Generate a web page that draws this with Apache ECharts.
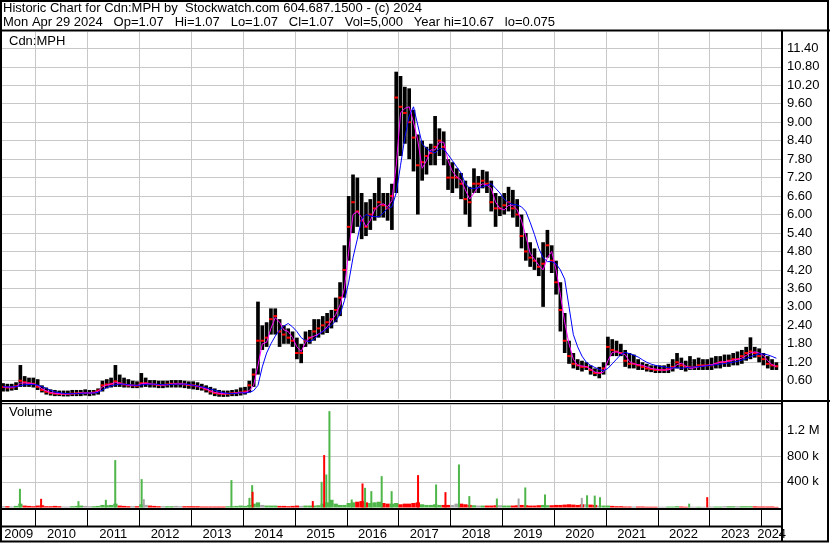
<!DOCTYPE html>
<html><head><meta charset="utf-8">
<script src="https://cdn.jsdelivr.net/npm/echarts@6/dist/echarts.min.js"></script>
<style>html,body{margin:0;padding:0;background:#fff}#c{width:830px;height:543px}</style>
</head><body><div id="c"></div>
<script>
// ---- DATA (monthly) ----
const months = [
'2009-05','2009-06','2009-07','2009-08','2009-09','2009-10','2009-11','2009-12',
'2010-01','2010-02','2010-03','2010-04','2010-05','2010-06','2010-07','2010-08','2010-09','2010-10','2010-11','2010-12',
'2011-01','2011-02','2011-03','2011-04','2011-05','2011-06','2011-07','2011-08','2011-09','2011-10','2011-11','2011-12',
'2012-01','2012-02','2012-03','2012-04','2012-05','2012-06','2012-07','2012-08','2012-09','2012-10','2012-11','2012-12',
'2013-01','2013-02','2013-03','2013-04','2013-05','2013-06','2013-07','2013-08','2013-09','2013-10','2013-11','2013-12',
'2014-01','2014-02','2014-03','2014-04','2014-05','2014-06','2014-07','2014-08','2014-09','2014-10','2014-11','2014-12',
'2015-01','2015-02','2015-03','2015-04','2015-05','2015-06','2015-07','2015-08','2015-09','2015-10','2015-11','2015-12',
'2016-01','2016-02','2016-03','2016-04','2016-05','2016-06','2016-07','2016-08','2016-09','2016-10','2016-11','2016-12',
'2017-01','2017-02','2017-03','2017-04','2017-05','2017-06','2017-07','2017-08','2017-09','2017-10','2017-11','2017-12',
'2018-01','2018-02','2018-03','2018-04','2018-05','2018-06','2018-07','2018-08','2018-09','2018-10','2018-11','2018-12',
'2019-01','2019-02','2019-03','2019-04','2019-05','2019-06','2019-07','2019-08','2019-09','2019-10','2019-11','2019-12',
'2020-01','2020-02','2020-03','2020-04','2020-05','2020-06','2020-07','2020-08','2020-09','2020-10','2020-11','2020-12',
'2021-01','2021-02','2021-03','2021-04','2021-05','2021-06','2021-07','2021-08','2021-09','2021-10','2021-11','2021-12',
'2022-01','2022-02','2022-03','2022-04','2022-05','2022-06','2022-07','2022-08','2022-09','2022-10','2022-11','2022-12',
'2023-01','2023-02','2023-03','2023-04','2023-05','2023-06','2023-07','2023-08','2023-09','2023-10','2023-11','2023-12',
'2024-01','2024-02','2024-03','2024-04'];

const hi = [
.52,.50,.50,.55,1.11,.75,.70,.70,
.65,.45,.38,.32,.30,.28,.28,.28,.30,.30,.30,.32,
.30,.30,.35,.60,.65,.70,1.11,.80,.70,.65,.60,.58,
.85,.70,.62,.62,.60,.60,.60,.62,.62,.62,.60,.58,
.58,.55,.50,.45,.40,.35,.30,.28,.28,.30,.32,.38,
.40,.60,1.00,3.17,2.40,2.50,2.95,2.95,2.60,2.40,2.30,2.20,
2.00,1.80,2.20,2.25,2.60,2.60,2.70,2.80,2.90,3.30,3.80,5.00,
6.60,7.30,7.20,6.70,6.40,6.50,6.70,7.20,6.70,6.70,7.00,10.64,
10.50,10.15,10.10,9.40,8.60,8.40,8.20,8.30,9.20,8.80,8.70,7.80,
7.70,7.50,7.35,7.10,6.90,7.50,7.25,7.45,7.40,7.10,6.70,6.60,
6.70,6.90,6.80,6.50,6.00,5.40,5.10,4.90,4.60,5.10,5.50,5.00,
4.50,3.80,2.80,1.90,1.50,1.30,1.25,1.20,1.10,1.00,1.05,1.20,
2.03,1.95,1.90,1.80,1.60,1.50,1.45,1.30,1.20,1.15,1.10,1.10,
1.10,1.10,1.15,1.30,1.50,1.35,1.25,1.40,1.30,1.35,1.30,1.30,
1.35,1.40,1.40,1.45,1.45,1.50,1.55,1.60,1.70,2.01,1.70,1.65,
1.50,1.40,1.30,1.20];

const lo = [
.25,.25,.28,.30,.40,.40,.40,.38,
.30,.22,.15,.12,.10,.10,.09,.09,.10,.10,.10,.12,
.10,.12,.15,.25,.35,.38,.40,.40,.38,.38,.36,.36,
.38,.40,.38,.38,.36,.36,.38,.38,.38,.38,.36,.34,
.32,.30,.28,.22,.15,.10,.08,.075,.08,.10,.10,.12,
.15,.22,.40,.80,1.60,1.70,2.10,2.10,1.70,1.80,1.80,1.70,
1.30,1.17,1.70,1.80,1.90,2.00,2.10,2.15,2.30,2.50,2.70,3.30,
4.50,5.40,5.60,5.20,5.30,5.50,5.80,5.90,5.90,5.80,5.50,6.70,
7.90,8.30,7.80,7.40,6.00,7.10,7.30,7.60,7.60,7.90,7.60,6.80,
6.70,6.85,6.50,6.00,5.60,6.70,6.70,6.85,6.70,6.10,5.60,5.95,
6.00,6.10,5.90,5.60,4.90,4.50,4.30,4.20,4.00,3.00,4.60,4.10,
3.40,2.20,1.50,1.15,1.00,0.95,0.90,0.95,0.80,0.75,0.68,0.80,
1.10,1.40,1.40,1.40,1.05,1.00,1.00,0.95,0.95,0.90,0.88,0.85,
0.85,0.85,0.85,0.90,1.00,0.95,0.90,0.95,0.95,0.95,0.95,0.95,
0.95,1.00,1.00,1.05,1.05,1.10,1.10,1.15,1.25,1.30,1.35,1.20,
1.10,1.00,0.95,0.95];

const cl = [
.40,.38,.38,.42,.60,.55,.52,.50,
.40,.30,.24,.20,.18,.17,.17,.17,.18,.19,.20,.20,
.20,.22,.28,.45,.48,.50,.58,.52,.48,.45,.45,.44,
.52,.52,.50,.48,.46,.46,.48,.50,.50,.50,.48,.46,
.45,.42,.38,.32,.25,.20,.18,.17,.18,.19,.20,.22,
.25,.45,.80,1.90,1.90,2.00,2.60,2.70,2.20,2.10,2.00,1.90,
1.50,1.50,1.90,2.00,2.20,2.30,2.40,2.50,2.60,2.90,3.30,4.20,
5.60,6.40,6.10,5.80,5.60,6.00,6.20,6.40,6.30,6.20,6.60,9.80,
9.50,9.30,9.00,8.50,7.60,7.70,7.90,8.00,8.20,8.40,8.20,7.20,
7.20,7.20,7.00,6.50,6.40,7.00,7.00,7.10,7.00,6.40,6.20,6.20,
6.30,6.40,6.20,6.00,5.30,4.80,4.60,4.50,4.30,4.40,5.00,4.50,
3.80,2.90,1.90,1.40,1.15,1.10,1.05,1.05,0.95,0.85,0.85,1.00,
1.70,1.60,1.55,1.50,1.25,1.15,1.15,1.10,1.05,1.00,0.98,0.95,
0.95,0.95,0.98,1.05,1.20,1.10,1.05,1.05,1.05,1.10,1.10,1.10,
1.10,1.15,1.20,1.20,1.25,1.30,1.30,1.40,1.50,1.55,1.50,1.40,
1.30,1.15,1.10,1.07];

// short moving average (magenta) as drawn
const maFast = [
.40,.39,.39,.41,.52,.53,.52,.50,
.44,.34,.27,.22,.19,.18,.17,.17,.18,.19,.20,.20,
.20,.21,.26,.40,.46,.49,.54,.52,.48,.46,.45,.44,
.50,.52,.50,.48,.47,.46,.47,.49,.50,.50,.49,.47,
.45,.42,.38,.33,.27,.22,.19,.18,.18,.19,.20,.22,
.22,.28,.45,1.10,1.80,1.85,2.30,2.65,2.50,2.25,2.20,2.00,
1.70,1.55,1.85,2.00,2.05,2.12,2.20,2.35,2.55,2.75,3.06,3.60,
4.80,6.00,6.10,5.90,5.60,5.80,6.15,6.30,6.35,6.25,6.45,7.60,
9.30,9.45,9.50,9.00,8.40,7.50,7.75,8.10,8.10,8.35,8.35,7.75,
7.40,7.23,7.12,6.80,6.50,6.70,6.90,7.00,6.95,6.85,6.40,6.20,
6.15,6.30,6.30,6.15,5.80,5.30,4.74,4.55,4.35,4.20,4.60,4.80,
4.20,3.40,2.50,1.80,1.30,1.10,1.08,1.06,0.98,0.88,0.85,0.88,
1.25,1.52,1.54,1.50,1.45,1.22,1.15,1.12,1.10,1.05,1.00,0.98,
0.95,0.95,0.95,1.00,1.12,1.17,1.08,1.00,1.02,1.05,1.08,1.10,
1.12,1.17,1.20,1.22,1.24,1.27,1.30,1.33,1.42,1.50,1.54,1.50,
1.42,1.25,1.12,1.06];

// long moving average (blue) as drawn
const maSlow = [
.41,.40,.40,.41,.44,.47,.48,.48,
.46,.41,.35,.29,.24,.21,.19,.18,.18,.18,.19,.20,
.20,.20,.22,.30,.38,.43,.47,.49,.49,.47,.46,.45,
.46,.48,.49,.49,.48,.47,.47,.48,.49,.49,.49,.48,
.45,.43,.40,.37,.33,.29,.25,.21,.19,.18,.19,.21,
.20,.22,.28,.45,1.05,1.50,1.80,2.05,2.25,2.38,2.46,2.35,
2.20,2.00,1.90,1.87,1.95,2.10,2.20,2.30,2.40,2.55,2.75,3.20,
3.80,4.60,5.20,5.85,6.00,5.95,5.93,5.93,6.05,6.20,6.25,6.70,
7.60,8.50,9.20,9.50,8.90,8.30,8.15,8.05,8.00,8.15,8.12,7.95,
7.75,7.55,7.35,7.00,6.85,6.85,6.87,6.90,6.95,7.00,6.85,6.70,
6.50,6.38,6.33,6.31,6.25,6.10,5.75,5.35,4.90,4.60,4.47,4.47,
4.40,4.20,3.90,3.00,2.10,1.70,1.40,1.20,1.10,1.03,0.97,0.92,
1.00,1.15,1.30,1.45,1.52,1.48,1.43,1.37,1.28,1.20,1.14,1.10,
1.07,1.05,1.02,1.02,1.02,1.01,1.02,1.04,1.05,1.06,1.07,1.09,
1.10,1.12,1.14,1.16,1.18,1.20,1.23,1.27,1.32,1.38,1.43,1.47,
1.47,1.44,1.39,1.33];

// typical daily volume level per month (thousands)
const volBase = [
20,20,15,25,60,30,25,20,
30,35,20,20,25,20,15,15,20,25,30,25,
20,20,25,40,35,40,60,30,25,20,20,20,
50,40,30,25,20,20,20,20,25,20,20,20,
20,20,15,15,15,15,15,15,20,20,25,30,
25,40,60,80,40,30,30,30,25,25,20,25,
30,25,30,30,30,35,60,80,120,60,40,40,
70,80,90,100,80,70,80,90,70,60,60,70,
50,60,60,70,80,50,40,40,50,40,40,40,
40,60,60,50,40,35,30,30,30,30,35,35,
30,30,30,35,40,35,30,30,35,40,35,35,
40,40,45,50,45,40,50,50,45,40,30,30,
30,25,20,20,15,15,15,15,15,12,12,12,
12,12,15,15,20,15,12,12,12,12,12,12,
15,15,15,20,20,20,20,20,20,20,18,15,
15,15,15,10];

// notable single-day volume spikes (thousands) and that day's price move
const spikeDates = ['2009-09-13','2010-02-09','2010-10-30','2011-05-11','2011-07-16','2012-01-18','2012-02-02',
'2013-10-12','2014-02-16','2014-03-07','2014-03-10','2015-05-08','2015-07-09','2015-07-27','2015-08-11','2015-09-02',
'2016-02-06','2016-04-22','2016-05-10','2016-06-23','2016-09-04','2016-11-13','2017-05-19','2017-09-23','2017-11-28',
'2018-03-03','2018-05-15','2018-11-25','2019-04-27','2019-06-13','2019-10-30','2020-07-15','2020-08-21','2020-10-14',
'2020-11-20','2022-08-11','2022-12-16'];
const spikeVol = [291,135,99,120,738,442,130,426,150,348,244,100,400,816,514,1500,125,374,306,254,488,254,504,358,239,
670,177,140,140,312,203,150,190,185,160,60,161];
const spikeMove = [1,-1,1,1,1,1,0,1,1,1,-1,-1,1,-1,1,1,1,-1,1,1,1,1,-1,1,-1,1,1,1,0,1,1,0,1,1,1,1,-1];

const yearLabels = ['2009','2010','2011','2012','2013','2014','2015','2016','2017','2018','2019','2020','2021','2022','2023','2024'];
const volTickLabels = {400:'400 k', 800:'800 k', 1200:'1.2 M'};
const priceTickStep = 0.6;
const volTickStep = 400;

const headerLine1 = 'Historic Chart for Cdn:MPH by  Stockwatch.com 604.687.1500 - (c) 2024';
const headerLine2 = 'Mon Apr 29 2024   Op=1.07   Hi=1.07   Lo=1.07   Cl=1.07   Vol=5,000   Year hi=10.67   lo=0.075';

// ---- helpers ----
function monthX(s){ return +s.slice(0,4) + (+s.slice(5,7) - 0.5)/12; }
function dateX(s){
  const y = +s.slice(0,4);
  const d = (Date.UTC(y, +s.slice(5,7)-1, +s.slice(8,10)) - Date.UTC(y,0,1))/86400000;
  return y + (d+0.5)/365;
}

// ---- layout ----
const X_MIN = 2009.354, X_MAX = 2024.40;
const FONT = '13px "Liberation Sans", Arial, sans-serif';
const GREEN = '#4fb64a', RED = '#ff0000', GRAY = '#a6a6a6';

const barData = months.map((m,i)=>[monthX(m), lo[i], hi[i], cl[i]]);
const fastData = months.map((m,i)=>[monthX(m), maFast[i]]);
const slowData = months.map((m,i)=>[monthX(m), maSlow[i]]);
const volData = months.map((m,i)=>{
  const d = i===0 ? 0 : cl[i]-cl[i-1];
  return [monthX(m), volBase[i], d>0.001?1:(d<-0.001?-1:0)];
});
const spikeData = spikeDates.map((s,i)=>[dateX(s), spikeVol[i], spikeMove[i]]);
const yearLineData = yearLabels.slice(1).map(y=>[+y, 0]);
const labelData = yearLabels.map(y=>{
  const Y = +y;
  return [(Math.max(Y, X_MIN) + Math.min(Y+1, X_MAX))/2, 0.5];
});

function xAxisCfg(gridIndex){
  return {type:'value', gridIndex, min:X_MIN, max:X_MAX,
    axisLine:{show:false}, axisTick:{show:false}, axisLabel:{show:false}, splitLine:{show:false}};
}
function dirColor(v){ return v>0?GREEN:(v<0?RED:GRAY); }
function yearLineSeries(idx, color){
  return {type:'custom', xAxisIndex:idx, yAxisIndex:idx, data:yearLineData, z:1, silent:true, encode:{x:0},
    renderItem:(p, api)=>{
      const cs = p.coordSys;
      const x = Math.round(api.coord([api.value(0), 0])[0]) + 0.5;
      return {type:'line', shape:{x1:x, y1:cs.y, x2:x, y2:cs.y+cs.height}, style:{stroke:color, lineWidth:1}};
    }};
}

const chart = echarts.init(document.getElementById('c'), null, {renderer:'canvas'});
chart.setOption({
  animation:false,
  backgroundColor:'#fff',
  grid:[
    {left:2, top:32, width:780, height:367.2},
    {left:2, top:404, width:780, height:103.5},
    {left:2, top:510, width:780, height:16},
    {left:2, top:527.5, width:780, height:14}
  ],
  xAxis:[xAxisCfg(0), xAxisCfg(1), xAxisCfg(2), xAxisCfg(3)],
  yAxis:[
    {type:'value', gridIndex:0, position:'right', min:0, max:11.93, interval:priceTickStep,
     axisLine:{show:false}, axisTick:{show:false},
     axisLabel:{margin:5, showMinLabel:false, showMaxLabel:false, color:'#000', fontFamily:'"Liberation Sans", Arial', fontSize:13,
       formatter:v=>v.toFixed(2)},
     splitLine:{showMinLine:false, showMaxLine:false, lineStyle:{color:'#c8c8c8', width:1}}},
    {type:'value', gridIndex:1, position:'right', min:0, max:1611, interval:volTickStep,
     axisLine:{show:false}, axisTick:{show:false},
     axisLabel:{margin:5, showMinLabel:false, showMaxLabel:false, color:'#000', fontFamily:'"Liberation Sans", Arial', fontSize:13,
       formatter:v=> volTickLabels[Math.round(v)] || ''},
     splitLine:{showMinLine:false, showMaxLine:false, lineStyle:{color:'#c8c8c8', width:1}}},
    {type:'value', gridIndex:2, min:0, max:1, show:false},
    {type:'value', gridIndex:3, min:0, max:1, show:false}
  ],
  series:[
    yearLineSeries(0, '#c8c8c8'),
    yearLineSeries(1, '#c8c8c8'),
    yearLineSeries(2, '#000'),
    {type:'custom', xAxisIndex:0, yAxisIndex:0, data:barData, z:2, encode:{x:0, y:[1,2,3]},
     renderItem:(p, api)=>{
       const x = api.value(0);
       const pL = api.coord([x, api.value(1)]);
       const pH = api.coord([x, api.value(2)]);
       const pC = api.coord([x, api.value(3)]);
       const w = api.size([1/12, 0])[0]*0.85;
       return {type:'group', children:[
         {type:'rect', shape:{x:pL[0]-w/2, y:pH[1], width:w, height:Math.max(1,pL[1]-pH[1])}, style:{fill:'#000'}},
         {type:'rect', shape:{x:pC[0]-w/2, y:pC[1]-1, width:w, height:2}, style:{fill:RED}}
       ]};
     }},
    {type:'line', xAxisIndex:0, yAxisIndex:0, data:fastData, showSymbol:false, z:3,
     lineStyle:{color:'#ff00ff', width:1}},
    {type:'line', xAxisIndex:0, yAxisIndex:0, data:slowData, showSymbol:false, z:4,
     lineStyle:{color:'#0000ff', width:1}},
    {type:'custom', xAxisIndex:1, yAxisIndex:1, data:volData, z:2, encode:{x:0, y:1},
     renderItem:(p, api)=>{
       const x = api.value(0);
       const p0 = api.coord([x, 0]);
       const p1 = api.coord([x, api.value(1)]);
       const w = api.size([1/12, 0])[0];
       return {type:'rect', shape:{x:p0[0]-w/2, y:p1[1], width:w, height:p0[1]-p1[1]}, style:{fill:dirColor(api.value(2))}};
     }},
    {type:'custom', xAxisIndex:1, yAxisIndex:1, data:spikeData, z:3, encode:{x:0, y:1},
     renderItem:(p, api)=>{
       const x = api.value(0);
       const p0 = api.coord([x, 0]);
       const p1 = api.coord([x, api.value(1)]);
       return {type:'rect', shape:{x:p0[0]-1, y:p1[1], width:2, height:p0[1]-p1[1]}, style:{fill:dirColor(api.value(2))}};
     }},
    {type:'custom', xAxisIndex:3, yAxisIndex:3, data:labelData, z:5, encode:{x:0, y:1},
     renderItem:(p, api)=>{
       const pt = api.coord([api.value(0), api.value(1)]);
       return {type:'text', style:{text:yearLabels[p.dataIndex], x:pt[0], y:pt[1], align:'center', verticalAlign:'middle', font:FONT, fill:'#000'}};
     }}
  ],
  graphic:[
    {type:'text', left:3, top:2, z:10, style:{text:headerLine1, font:FONT, fill:'#000'}},
    {type:'text', left:3, top:16, z:10, style:{text:headerLine2, font:FONT, fill:'#000'}},
    {type:'text', left:9, top:35, z:10, style:{text:'Cdn:MPH', font:FONT, fill:'#000'}},
    {type:'text', left:9, top:406, z:10, style:{text:'Volume', font:FONT, fill:'#000'}},
    {type:'line', z:10, shape:{x1:0, y1:30.5, x2:830, y2:30.5}, style:{stroke:'#000', lineWidth:2}},
    {type:'line', z:10, shape:{x1:782, y1:30, x2:782, y2:542}, style:{stroke:'#000', lineWidth:2}},
    {type:'line', z:10, shape:{x1:0, y1:401, x2:830, y2:401}, style:{stroke:'#000', lineWidth:2}},
    {type:'line', z:10, shape:{x1:0, y1:403.5, x2:782, y2:403.5}, style:{stroke:'#000', lineWidth:1}},
    {type:'line', z:10, shape:{x1:0, y1:509, x2:782, y2:509}, style:{stroke:'#000', lineWidth:2}},
    {type:'line', z:10, shape:{x1:0, y1:526.5, x2:782, y2:526.5}, style:{stroke:'#000', lineWidth:2}},
    {type:'rect', z:10, shape:{x:1, y:1, width:827, height:540.5}, style:{fill:'none', stroke:'#000', lineWidth:2}}
  ]
});
</script>
</body></html>
